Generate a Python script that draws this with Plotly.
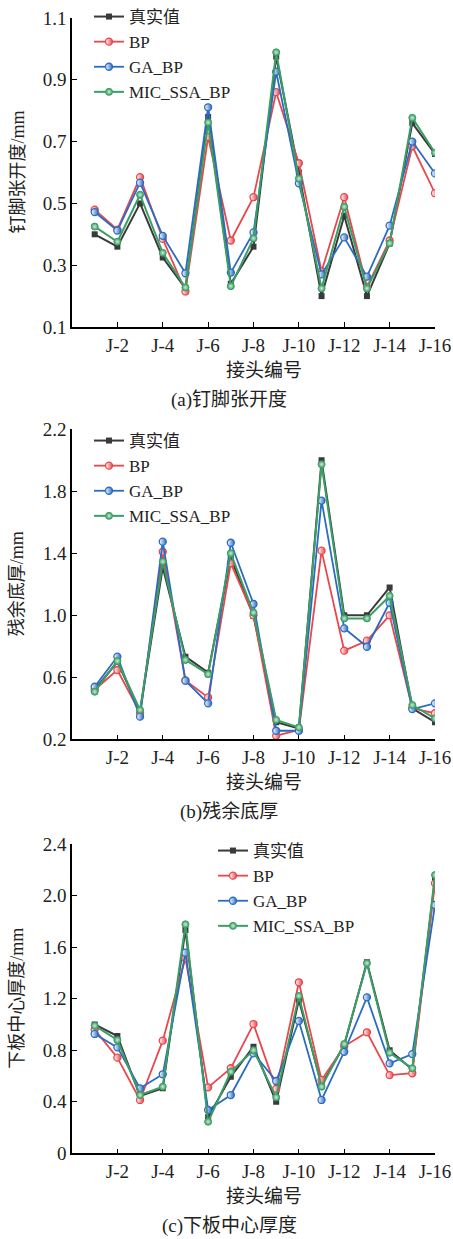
import plotly.graph_objects as go

# joint indices along the x axis (J-1 ... J-16)
joints = list(range(1, 17))
tick_pos = [2, 4, 6, 8, 10, 12, 14, 16]
tick_text = ["J-2", "J-4", "J-6", "J-8", "J-10", "J-12", "J-14", "J-16"]

series_names = ["真实值", "BP", "GA_BP", "MIC_SSA_BP"]

# (a) 钉脚张开度 /mm
real_a = [0.40, 0.36, 0.50, 0.325, 0.225, 0.78, 0.24, 0.36, 0.975, 0.60, 0.20, 0.46, 0.20, 0.37, 0.76, 0.66]
bp_a = [0.48, 0.415, 0.585, 0.385, 0.215, 0.715, 0.38, 0.52, 0.86, 0.63, 0.28, 0.52, 0.23, 0.38, 0.685, 0.533]
ga_a = [0.472, 0.412, 0.567, 0.395, 0.274, 0.811, 0.276, 0.406, 0.926, 0.565, 0.27, 0.39, 0.263, 0.428, 0.70, 0.597]
mic_a = [0.425, 0.376, 0.528, 0.34, 0.228, 0.762, 0.232, 0.387, 0.989, 0.58, 0.225, 0.489, 0.225, 0.371, 0.777, 0.664]

# (b) 残余底厚 /mm
real_b = [0.52, 0.70, 0.38, 1.31, 0.733, 0.63, 1.37, 0.995, 0.31, 0.27, 2.0, 1.0, 1.0, 1.18, 0.40, 0.31]
bp_b = [0.52, 0.647, 0.37, 1.41, 0.58, 0.47, 1.335, 1.0, 0.223, 0.26, 1.417, 0.772, 0.836, 1.0, 0.40, 0.368]
ga_b = [0.539, 0.733, 0.346, 1.475, 0.578, 0.432, 1.468, 1.073, 0.255, 0.255, 1.74, 0.916, 0.797, 1.081, 0.395, 0.432]
mic_b = [0.507, 0.705, 0.389, 1.346, 0.712, 0.62, 1.40, 1.017, 0.325, 0.277, 1.974, 0.98, 0.98, 1.125, 0.421, 0.335]

# (c) 下板中心厚度 /mm
real_c = [1.0, 0.91, 0.444, 0.504, 1.733, 0.279, 0.594, 0.827, 0.40, 1.19, 0.53, 0.84, 1.482, 0.80, 0.65, 2.134]
bp_c = [0.96, 0.742, 0.414, 0.874, 1.513, 0.512, 0.66, 1.003, 0.50, 1.327, 0.569, 0.83, 0.939, 0.607, 0.621, 2.095]
ga_c = [0.926, 0.822, 0.504, 0.613, 1.557, 0.336, 0.452, 0.776, 0.561, 1.027, 0.414, 0.788, 1.21, 0.698, 0.77, 1.927]
mic_c = [0.99, 0.879, 0.452, 0.517, 1.777, 0.245, 0.633, 0.80, 0.434, 1.221, 0.517, 0.848, 1.475, 0.78, 0.66, 2.159]

ytick_a = [0.1, 0.3, 0.5, 0.7, 0.9, 1.1]
ytext_a = ["0.1", "0.3", "0.5", "0.7", "0.9", "1.1"]
ytick_b = [0.2, 0.6, 1.0, 1.4, 1.8, 2.2]
ytext_b = ["0.2", "0.6", "1.0", "1.4", "1.8", "2.2"]
ytick_c = [0, 0.4, 0.8, 1.2, 1.6, 2.0, 2.4]
ytext_c = ["0", "0.4", "0.8", "1.2", "1.6", "2.0", "2.4"]

W, H = 453, 1239
FONT = "Liberation Serif, Noto Sans CJK SC, serif"
TXT = "#222222"
COL_REAL = "#3a3a3a"
COL_BP = "#e8474c"
COL_GA = "#2a6cc2"
COL_MIC = "#3a9e66"


def fx(px):
    return px / W


def fy(px):
    return 1 - px / H


panels = [
    dict(data=[real_a, bp_a, ga_a, mic_a], yr=[0.1, 1.1], tv=ytick_a, tt=ytext_a,
         ytitle="钉脚张开度/mm", cap="(a)钉脚张开度", top=18, bot=327, leg=(89, -1)),
    dict(data=[real_b, bp_b, ga_b, mic_b], yr=[0.2, 2.2], tv=ytick_b, tt=ytext_b,
         ytitle="残余底厚/mm", cap="(b)残余底厚", top=429.3, bot=739.3, leg=(89, 423)),
    dict(data=[real_c, bp_c, ga_c, mic_c], yr=[0, 2.4], tv=ytick_c, tt=ytext_c,
         ytitle="下板中心厚度/mm", cap="(c)下板中心厚度", top=844, bot=1153.3, leg=(213, 833)),
]

X0, X1 = 72, 435
fig = go.Figure()
annotations = []
layout = {}

for i, p in enumerate(panels):
    n = "" if i == 0 else str(i + 1)
    xa, ya = "x" + n, "y" + n
    lg = "legend" + n
    real, bp, ga, mic = p["data"]

    fig.add_trace(go.Scatter(
        x=joints, y=real, name=series_names[0], mode="lines+markers",
        xaxis=xa, yaxis=ya, legend=lg,
        line=dict(color=COL_REAL, width=2),
        marker=dict(symbol="square", size=6, color=COL_REAL)))
    for vals, name, col in [(bp, series_names[1], COL_BP), (ga, series_names[2], COL_GA)]:
        fig.add_trace(go.Scatter(
            x=joints, y=vals, name=name, mode="lines+markers",
            xaxis=xa, yaxis=ya, legend=lg,
            line=dict(color=col, width=1.8),
            marker=dict(symbol="circle", size=7, color="white",
                        gradient=dict(type="horizontal", color=col),
                        line=dict(color=col, width=1.3))))
    fig.add_trace(go.Scatter(
        x=joints, y=mic, name=series_names[3], mode="lines+markers",
        xaxis=xa, yaxis=ya, legend=lg,
        line=dict(color=COL_MIC, width=2),
        marker=dict(symbol="circle", size=7, color=COL_MIC,
                    gradient=dict(type="radial", color="#cfe9d6"),
                    line=dict(color=COL_MIC, width=1))))

    axis_common = dict(showline=True, linecolor="black", linewidth=1.5, ticks="inside",
                       ticklen=5, tickwidth=1.3, tickcolor="black", showgrid=False,
                       zeroline=False, automargin=False,
                       tickfont=dict(family=FONT, size=19, color=TXT))
    layout["xaxis" + n] = dict(axis_common, domain=[fx(X0), fx(X1)], range=[0, 16],
                               tickvals=tick_pos, ticktext=tick_text, anchor=ya)
    layout["yaxis" + n] = dict(axis_common, domain=[fy(p["bot"]), fy(p["top"])], range=p["yr"],
                               tickvals=p["tv"], ticktext=p["tt"], anchor=xa)
    layout[lg] = dict(x=fx(p["leg"][0]), y=fy(p["leg"][1]), xanchor="left", yanchor="top",
                      bgcolor="rgba(0,0,0,0)", font=dict(family=FONT, size=17, color=TXT),
                      tracegroupgap=0, itemwidth=30)

    mid = (p["top"] + p["bot"]) / 2
    annotations.append(dict(text=p["ytitle"], textangle=-90, x=fx(17), y=fy(mid),
                            xanchor="center", yanchor="middle",
                            xref="paper", yref="paper", showarrow=False,
                            font=dict(family=FONT, size=18, color=TXT)))
    annotations.append(dict(text="接头编号", x=fx(264), y=fy(p["bot"] + 43),
                            xanchor="center", yanchor="middle",
                            xref="paper", yref="paper", showarrow=False,
                            font=dict(family=FONT, size=19, color=TXT)))
    annotations.append(dict(text=p["cap"], x=fx(229), y=fy(p["bot"] + 73),
                            xanchor="center", yanchor="middle",
                            xref="paper", yref="paper", showarrow=False,
                            font=dict(family=FONT, size=19, color=TXT)))

fig.update_layout(
    width=W, height=H, margin=dict(l=0, r=0, t=0, b=0, autoexpand=False),
    plot_bgcolor="white", paper_bgcolor="white",
    annotations=annotations, **layout)

fig.write_html("out.html")
